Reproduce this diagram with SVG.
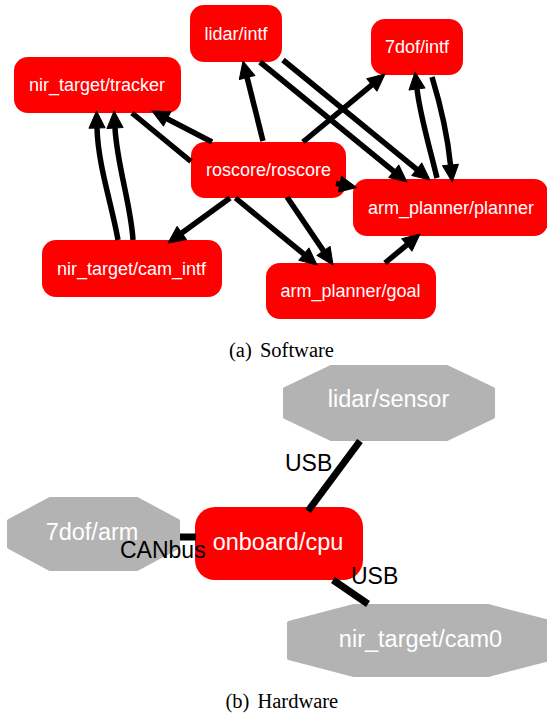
<svg xmlns="http://www.w3.org/2000/svg" width="547" height="719" viewBox="0 0 547 719">
  <style>
    .proc { fill: #ff0000; }
    .dev { fill: #b3b3b3; stroke: #b3b3b3; stroke-width: 4; stroke-linejoin: round; }
    .lbl { font-family: "Liberation Sans", Arial, Helvetica, sans-serif; fill: #ffffff; text-anchor: middle; }
    .sw { font-size: 18px; }
    .hw { font-size: 23.5px; }
    .edge { fill: none; stroke: #000000; stroke-width: 5.5; }
    .edge.arrow { marker-end: url(#head); }
    .link { fill: none; stroke: #000000; stroke-width: 7; }
    .elabel { font-family: "Liberation Sans", Arial, Helvetica, sans-serif; font-size: 23px; fill: #000000; }
    .cap { font-family: "Liberation Serif", "Times New Roman", serif; font-size: 20.5px; fill: #000000; text-anchor: middle; word-spacing: 3px; }
  </style>
  <defs>
    <marker id="head" markerUnits="userSpaceOnUse" markerWidth="18" markerHeight="17" refX="0" refY="8" orient="auto" overflow="visible">
      <path d="M0,0 L17,8 L0,16 Z" fill="#000000" stroke="#000000" stroke-width="1" stroke-linejoin="round"/>
    </marker>
  </defs>

  <rect width="547" height="719" fill="#ffffff"/>

  <!-- (a) software processes -->
  <g id="lidar_intf">
    <rect class="proc" x="190" y="5" width="92" height="57" rx="14"/>
    <text class="lbl sw" x="236" y="39.5">lidar/intf</text>
  </g>
  <g id="nir_target_tracker">
    <rect class="proc" x="14" y="57" width="167" height="56" rx="14"/>
    <text class="lbl sw" x="97" y="91">nir_target/tracker</text>
  </g>
  <g id="dof_intf">
    <rect class="proc" x="371" y="19" width="92" height="56" rx="14"/>
    <text class="lbl sw" x="417" y="53">7dof/intf</text>
  </g>
  <g id="roscore_roscore">
    <rect class="proc" x="191" y="142" width="155" height="56" rx="14"/>
    <text class="lbl sw" x="268.5" y="175.5">roscore/roscore</text>
  </g>
  <g id="arm_planner_planner">
    <rect class="proc" x="353" y="179" width="195" height="57" rx="14"/>
    <text class="lbl sw" x="451" y="213.5">arm_planner/planner</text>
  </g>
  <g id="arm_planner_goal">
    <rect class="proc" x="266" y="263" width="170" height="56" rx="14"/>
    <text class="lbl sw" x="350.5" y="297">arm_planner/goal</text>
  </g>
  <g id="nir_target_cam_intf">
    <rect class="proc" x="42" y="240" width="180" height="57" rx="14"/>
    <text class="lbl sw" x="131.5" y="274.5">nir_target/cam_intf</text>
  </g>

  <!-- (b) hardware devices -->
  <g id="lidar_sensor">
    <polygon class="dev" points="285,389 331,367 447,367 493,389 493,417 447,439 331,439 285,417"/>
    <text class="lbl hw" x="388.5" y="407">lidar/sensor</text>
  </g>
  <g id="dof_arm">
    <polygon class="dev" points="9,521 50,499 137,499 178,521 178,547 137,569 50,569 9,547"/>
    <text class="lbl hw" x="92" y="540">7dof/arm</text>
  </g>
  <g id="onboard_cpu">
    <rect class="proc" x="195" y="507" width="168" height="73" rx="20"/>
    <text class="lbl hw" x="278" y="549.5">onboard/cpu</text>
  </g>
  <g id="nir_target_cam0">
    <polygon class="dev" points="289,623 354,606 488,606 553,623 553,658 488,675 354,675 289,658"/>
    <text class="lbl hw" x="420.5" y="647">nir_target/cam0</text>
  </g>

  <!-- connectors -->
  <g id="connectors">
    <!-- software topics -->
    <path class="edge arrow" d="M212,142 L167.1,118.8"/>
    <path class="edge arrow" d="M132,113 L191,161.5 M235.5,198 L303.9,254.2"/>
    <path class="edge arrow" d="M263,141 L247.1,77.5"/>
    <path class="edge arrow" d="M118,240 C112,205 98,165 97,128"/>
    <path class="edge arrow" d="M133,240 C131,205 117,165 115,128"/>
    <path class="edge arrow" d="M230,198 L181.8,233"/>
    <path class="edge arrow" d="M336,183.4 L340,184.2"/>
    <path class="edge arrow" d="M287,197 L323.5,250.9"/>
    <path class="edge arrow" d="M260,62 L393.8,171.3"/>
    <path class="edge arrow" d="M283,60 L416.8,169.3"/>
    <path class="edge arrow" d="M303,142 L371.9,84.9"/>
    <path class="edge arrow" d="M437,178 C429,145 420,115 417,89"/>
    <path class="edge arrow" d="M432,77 C439,100 447,130 450.5,165"/>
    <path class="edge arrow" d="M385,263 L406.9,244.8"/>

    <!-- hardware links -->
    <line class="link" x1="360" y1="441" x2="308" y2="511"/>
    <line class="link" x1="180" y1="537" x2="196" y2="537"/>
    <line class="link" x1="333" y1="580" x2="368" y2="604"/>
    <text class="elabel" x="285" y="470.5">USB</text>
    <text class="elabel" x="120" y="558">CANbus</text>
    <text class="elabel" x="351" y="584">USB</text>
  </g>

  <!-- sub-figure captions -->
  <text class="cap" x="281.5" y="357">(a) Software</text>
  <text class="cap" x="281.8" y="708">(b) Hardware</text>
</svg>
